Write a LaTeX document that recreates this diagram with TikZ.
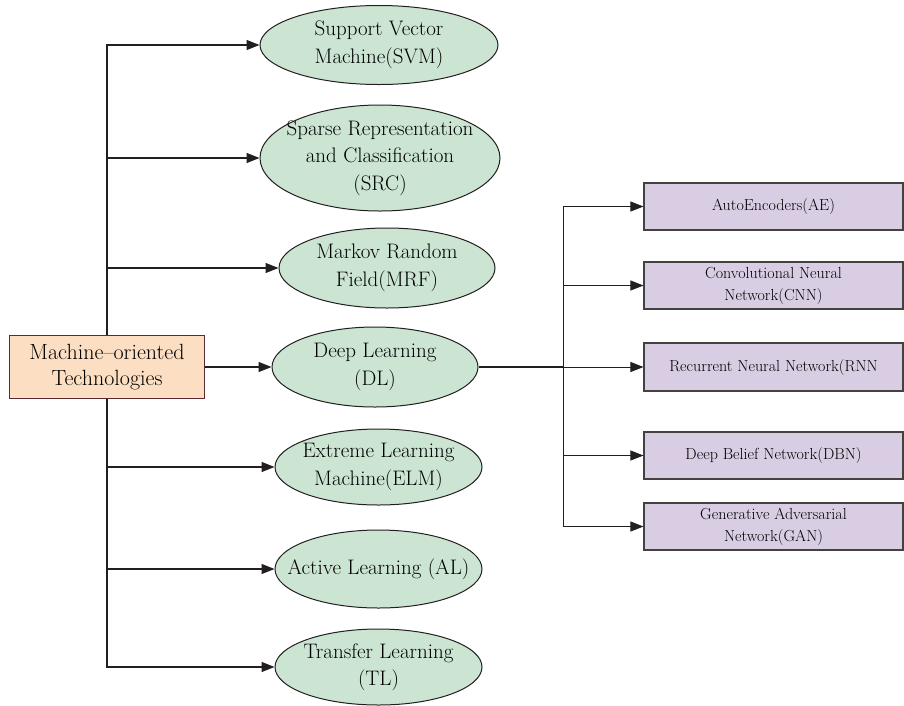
\documentclass[tikz,border=0pt]{standalone}
\usetikzlibrary{shapes.geometric,arrows.meta}
\definecolor{ellfill}{HTML}{CBE5D2}
\definecolor{recfill}{HTML}{D9CDE3}
\definecolor{mainfill}{HTML}{FCDEC2}
\definecolor{mainedge}{HTML}{5A2A30}
\definecolor{ln}{HTML}{231F20}
\begin{document}
\begin{tikzpicture}[x=1pt,y=-1pt,
  ell/.style={ellipse,draw=ln,line width=1pt,fill=ellfill,inner sep=0pt},
  elltext/.style={align=center,inner sep=0pt,font=\fontsize{21}{27.5}\selectfont,text=black},
  rec/.style={rectangle,draw=ln!85,line width=1.1pt,fill=recfill,inner sep=0pt,align=center,
    minimum width=259pt,font=\fontsize{16}{22}\selectfont,text=black},
  mainbox/.style={rectangle,draw=mainedge,line width=1.1pt,fill=mainfill,inner sep=0pt,align=center,
    minimum width=195pt,minimum height=63pt,font=\fontsize{22}{25.5}\selectfont,text=black},
  con/.style={draw=ln,line width=1.2pt},
  thin/.style={draw=ln,line width=1pt},
  arr/.style={con,-{Triangle[length=13pt,width=10pt]}},
  tarr/.style={thin,-{Triangle[length=13pt,width=10pt]}}]
\useasboundingbox (0,0) rectangle (904,705);

\node[mainbox] (main) at (107,367) {Machine--oriented\\Technologies};

\node[ell,minimum width=238pt,minimum height=79pt,label={[elltext]center:Support Vector\\Machine(SVM)}] (svm) at (379,45) {};
\node[ell,minimum width=240pt,minimum height=106pt,label={[elltext]center:Sparse Representation\\and Classification\\(SRC)}] (src) at (380,158) {};
\node[ell,minimum width=216pt,minimum height=80pt,label={[elltext]center:Markov Random\\Field(MRF)}] (mrf) at (387,268) {};
\node[ell,minimum width=206pt,minimum height=80pt,label={[elltext]center:Deep Learning\\(DL)}] (dl) at (375,367) {};
\node[ell,minimum width=207pt,minimum height=76pt,label={[elltext]center:Extreme Learning\\Machine(ELM)}] (elm) at (378.5,467) {};
\node[ell,minimum width=207pt,minimum height=78pt,label={[elltext]center:Active Learning (AL)}] (al) at (378.5,569) {};
\node[ell,minimum width=207pt,minimum height=76pt,label={[elltext]center:Transfer Learning\\(TL)}] (tl) at (378.5,667) {};

\node[rec,minimum height=47pt] (ae) at (773.5,206.5) {AutoEncoders(AE)};
\node[rec,minimum height=47pt] (cnn) at (773.5,285.5) {Convolutional Neural\\Network(CNN)};
\node[rec,minimum height=48pt] (rnn) at (773.5,367) {Recurrent Neural Network(RNN};
\node[rec,minimum height=47pt] (dbn) at (773.5,455.5) {Deep Belief Network(DBN)};
\node[rec,minimum height=47pt] (gan) at (773.5,526.5) {Generative Adversarial\\Network(GAN)};

\draw[arr] (main.north) |- (svm.west);
\draw[arr] (main.north) |- (src.west);
\draw[arr] (main.north) |- (mrf.west);
\draw[arr] (main.east) -- (dl.west);
\draw[arr] (main.south) |- (elm.west);
\draw[arr] (main.south) |- (al.west);
\draw[arr] (main.south) |- (tl.west);

\coordinate (br) at (563,367);
\draw[con] (dl.east) -- (br);
\draw[tarr] (br) |- (ae.west);
\draw[tarr] (br) |- (cnn.west);
\draw[tarr] (br) -- (rnn.west);
\draw[tarr] (br) |- (dbn.west);
\draw[tarr] (br) |- (gan.west);
\end{tikzpicture}
\end{document}
